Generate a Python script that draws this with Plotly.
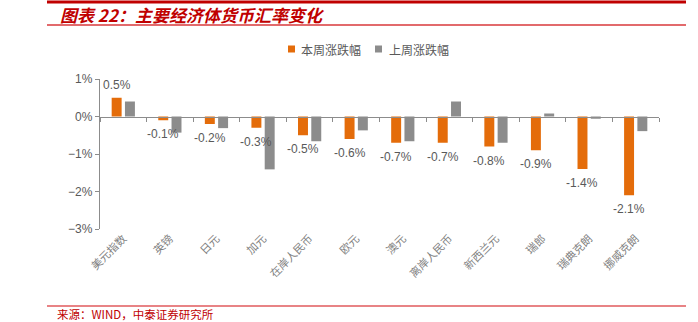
import plotly.graph_objects as go

# Currency names and weekly changes (%)
currencies = ["美元指数", "英镑", "日元", "加元", "在岸人民币", "欧元", "澳元",
              "离岸人民币", "新西兰元", "瑞郎", "瑞典克朗", "挪威克朗"]
this_week = [0.5, -0.1, -0.2, -0.3, -0.5, -0.6, -0.7, -0.7, -0.8, -0.9, -1.4, -2.1]
last_week = [0.4, -0.43, -0.31, -1.41, -0.66, -0.37, -0.66, 0.4, -0.7, 0.08, -0.06, -0.39]

series_names = ["本周涨跌幅", "上周涨跌幅"]
colors = ["#E46C0A", "#8C8C8C"]

W, H = 698, 322
ML, MR, MT, MB = 100, 39, 79, 93
PW, PH = W - ML - MR, H - MT - MB


def px(x):
    return (x - ML) / PW


def py(y):
    return (H - MB - y) / PH


CN = "Noto Sans CJK SC"
LAT = "Liberation Sans, Arial"
AXIS_GRAY = "#8C8C8C"
TEXT_GRAY = "#595959"

fig = go.Figure()
fig.add_trace(go.Bar(x=currencies, y=this_week, name=series_names[0],
                     marker=dict(color=colors[0], line=dict(width=0)),
                     showlegend=False, hoverinfo="x+y"))
fig.add_trace(go.Bar(x=currencies, y=last_week, name=series_names[1],
                     marker=dict(color=colors[1], line=dict(width=0)),
                     showlegend=False, hoverinfo="x+y"))

# invisible carrier for the zero-line axis with boundary ticks
fig.add_trace(go.Scatter(x=[-0.5, len(currencies) - 0.5], y=[0, 0], xaxis="x2",
                         mode="lines", line=dict(width=0), opacity=0,
                         showlegend=False, hoverinfo="skip"))

annotations = []
# value labels on this week's bars
slot = PW / len(currencies) * (1 - 0.43) / 2
for name, v in zip(currencies, this_week):
    annotations.append(dict(
        x=name, y=v, xref="x", yref="y", text=f"{v:.1f}%", showarrow=False,
        xshift=-slot / 2, yshift=13 if v >= 0 else -14,
        font=dict(family=LAT, size=12, color=TEXT_GRAY)))

# heading
annotations.append(dict(
    x=px(58), y=py(14), xref="paper", yref="paper", xanchor="left", yanchor="middle",
    text="<b><i>图表 22：主要经济体货币汇率变化</i></b>", showarrow=False,
    font=dict(family=CN, size=17, color="#C00000")))
# source note
annotations.append(dict(
    x=px(55), y=py(313.5), xref="paper", yref="paper", xanchor="left", yanchor="middle",
    text="来源：WIND，中泰证券研究所", showarrow=False,
    font=dict(family=CN, size=11.5, color="#C00000")))

shapes = [
    dict(type="line", xref="paper", yref="paper", x0=px(47), x1=px(686),
         y0=py(2), y1=py(2), line=dict(color="#C00000", width=3)),
    dict(type="line", xref="paper", yref="paper", x0=px(47), x1=px(686),
         y0=py(25), y1=py(25), line=dict(color="#D9393B", width=1.5)),
    dict(type="line", xref="paper", yref="paper", x0=px(47), x1=px(686),
         y0=py(306), y1=py(306), line=dict(color="#E05A5C", width=1.5)),
]

# legend: colour swatches with labels
legend_items = [(291.5, 299), (378.5, 387)]
for (sx, tx), name, c in zip(legend_items, series_names, colors):
    shapes.append(dict(type="rect", xref="paper", yref="paper",
                       x0=px(sx - 3.5), x1=px(sx + 3.5), y0=py(52.5), y1=py(45.5),
                       fillcolor=c, line=dict(width=0)))
    annotations.append(dict(
        x=px(tx), y=py(49), xref="paper", yref="paper", xanchor="left", yanchor="middle",
        text=name, showarrow=False, font=dict(family=CN, size=12, color=TEXT_GRAY)))

fig.update_layout(
    width=W, height=H,
    margin=dict(l=ML, r=MR, t=MT, b=MB),
    paper_bgcolor="white", plot_bgcolor="white",
    barmode="group", bargap=0.43, bargroupgap=0.25,
    showlegend=False,
    font=dict(family=LAT, color=TEXT_GRAY),
    xaxis=dict(type="category", showline=False, ticks="", showgrid=False,
               zeroline=False, tickangle=-45, range=[-0.5, len(currencies) - 0.5],
               tickfont=dict(family=CN, size=11, color="#7F7F7F")),
    xaxis2=dict(overlaying="x", anchor="free", position=0.75,
                range=[-0.5, len(currencies) - 0.5], tick0=-0.5, dtick=1,
                showline=True, linecolor=AXIS_GRAY, linewidth=1.3,
                ticks="outside", ticklen=4, tickcolor=AXIS_GRAY, tickwidth=1,
                showticklabels=False, showgrid=False, zeroline=False),
    yaxis=dict(range=[-3, 1], dtick=1, ticksuffix="%", showgrid=False, zeroline=False,
               showline=True, linecolor=AXIS_GRAY, linewidth=1.3,
               ticks="outside", ticklen=4, tickcolor=AXIS_GRAY,
               tickfont=dict(family=LAT, size=12, color=TEXT_GRAY)),
    annotations=annotations,
    shapes=shapes,
)

fig.write_html("out.html")
